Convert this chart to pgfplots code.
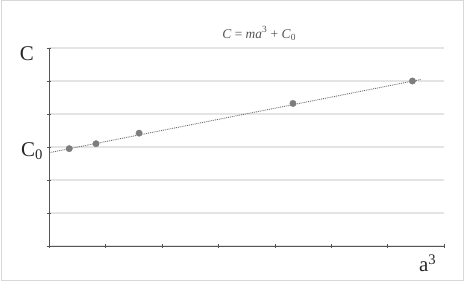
\documentclass[border=0pt]{standalone}
\usepackage{pgfplots}
\pgfplotsset{compat=1.18}
\usepackage{fontspec}
\setmainfont{Liberation Serif}
\definecolor{axisgray}{RGB}{85,85,85}
\definecolor{gridgray}{RGB}{228,228,228}
\definecolor{ptgray}{RGB}{125,125,125}
\definecolor{framegray}{RGB}{215,215,215}
\begin{document}
\begin{tikzpicture}
\useasboundingbox (-49.5bp,-42bp) rectangle (416.5bp,246bp);
\draw[framegray, line width=1bp] (-47.5bp,-34bp) rectangle (413.5bp,245bp);
\begin{axis}[
  scale only axis,
  width=394.5bp, height=198bp,
  xmin=0, xmax=7, ymin=0, ymax=6,
  axis x line=bottom, axis y line=left,
  axis line style={-, axisgray, line width=1bp},
  xtick={0,...,7}, ytick={0,...,6},
  xticklabels={}, yticklabels={},
  tick align=center,
  major tick length=4bp,
  tick style={axisgray, line width=0.8bp},
  ymajorgrids,
  grid style={gridgray, line width=1.2bp},
  clip=false,
]
\addplot[ptgray!85!black, densely dotted, line width=0.9bp] coordinates {(0,2.83) (6.6,5.05)};
\addplot[only marks, mark=*, mark size=3.2bp, mark options={fill=ptgray, draw=ptgray}] coordinates {
(0.35,2.95) (0.825,3.10) (1.59,3.42) (4.32,4.32) (6.44,5.00)};
\node[font=\fontsize{13.5}{15}\selectfont, text=axisgray] at (axis cs:3.72,6.44) {\textit{C} = \textit{ma}\textsuperscript{3} + \textit{C}\textsubscript{0}};
\node[font=\fontsize{21}{24}\selectfont, text=black!85] at (axis cs:-0.40,5.82) {C};
\node[font=\fontsize{21}{24}\selectfont, text=black!85] at (axis cs:-0.31,2.88) {C\textsubscript{0}};
\node[font=\fontsize{21}{24}\selectfont, text=black!85] at (axis cs:6.71,-0.52) {a\textsuperscript{3}};
\end{axis}
\end{tikzpicture}
\end{document}
